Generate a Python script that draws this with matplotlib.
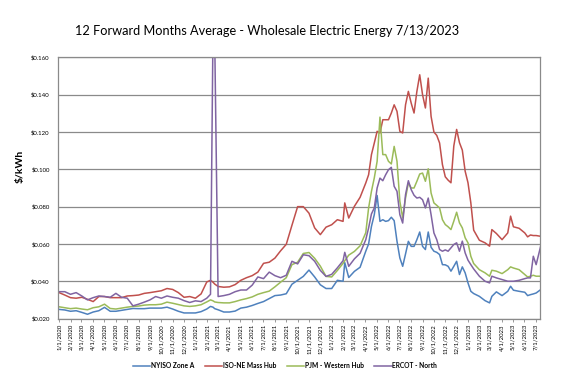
import numpy as np
import pandas as pd
import matplotlib
matplotlib.use("Agg")
import matplotlib.pyplot as plt
import matplotlib.dates as mdates
from matplotlib.ticker import FuncFormatter, MultipleLocator

# month offsets from 1/1/2020 where values were read
months = [0, 0.5, 1, 1.5, 2, 2.5, 3, 3.5, 4, 4.5, 5, 5.5, 6, 6.5, 7, 7.5, 8, 8.5, 9, 9.5,
          10, 10.5, 11, 11.5, 12, 12.5, 13,
          13.33, 13.55, 13.7,
          14, 14.5, 15, 15.5, 16, 16.5, 17, 17.5, 18, 18.5, 19, 19.5, 20, 20.5, 21, 21.5,
          22, 22.5, 23, 23.5, 24, 24.5, 25,
          25.15,
          25.5, 26, 26.5,
          27, 27.25, 27.5, 27.75, 28, 28.25, 28.5, 28.75, 29, 29.25, 29.5, 29.75,
          30, 30.25, 30.5, 30.75, 31, 31.25, 31.5, 31.75, 32, 32.25, 32.5, 32.75,
          33, 33.25, 33.5, 33.75, 34, 34.25, 34.5, 34.75, 35, 35.25, 35.5, 35.75,
          36, 36.25, 36.5,
          37, 37.5, 37.9, 38.1, 38.5, 39, 39.5, 39.75, 40, 40.5, 41, 41.25, 41.5, 41.75, 42, 42.4]

nyiso = [.0249, .0246, .0239, .0242, .0233, .0223, .0235, .0242, .0260, .0239, .0239, .0244, .0249,
         .0254, .0253, .0253, .0256, .0256, .0256, .0261, .0251, .0239, .0230, .0230, .0230, .0237, .0251,
         .0265, .0261, .0253,
         .0247, .0235, .0235, .0240, .0256, .0261, .0270, .0281, .0291, .0307, .0323, .0326, .0333,
         .0384, .0405, .0426, .0460, .0423, .0381, .0361, .0361, .0405, .0400,
         .0500,
         .0420, .0453, .0475,
         .0561, .0600, .0694, .0757, .0860, .0721, .0730, .0721, .0725, .0743, .0725, .0614,
         .0525, .0480, .0546, .0614, .0587, .0587, .0623, .0664, .0587, .0570, .0664, .0582,
         .0561, .0555, .0543, .0489, .0488, .0480, .0454, .0480, .0507, .0436, .0477, .0445,
         .0391, .0346, .0334,
         .0319, .0296, .0284, .0319, .0343, .0323, .0346, .0373, .0352, .0346, .0341, .0323, .0328,
         .0332, .0337, .0355]

isone = [.0339, .0326, .0312, .0309, .0314, .0303, .0291, .0318, .0318, .0312, .0312, .0312, .0321,
         .0323, .0326, .0335, .0339, .0344, .0349, .0361, .0356, .0339, .0314, .0318, .0309, .0332, .0396,
         .0405, .0395, .0385,
         .0372, .0368, .0370, .0382, .0405, .0419, .0430, .0449, .0496, .0502, .0524, .0563, .0598,
         .0700, .0800, .0800, .0765, .0686, .0650, .0690, .0703, .0730, .0721,
         .0820,
         .0739, .0802, .0850,
         .0927, .0971, .1079, .1141, .1204, .1195, .1266, .1266, .1266, .1302, .1346, .1311,
         .1204, .1195, .1346, .1418, .1355, .1302, .1418, .1507, .1400, .1329, .1489, .1284,
         .1200, .1182, .1141, .1025, .0960, .0942, .0928, .1125, .1214, .1143, .1103, .0990,
         .0928, .0820, .0674,
         .0620, .0606, .0588, .0677, .0656, .0623, .0659, .0749, .0692, .0684, .0659, .0638, .0648,
         .0645, .0645, .0641]

pjm = [.0263, .0258, .0253, .0256, .0251, .0247, .0258, .0263, .0277, .0254, .0251, .0256, .0261,
       .0265, .0267, .0272, .0274, .0274, .0277, .0288, .0282, .0275, .0268, .0265, .0268, .0274, .0289,
       .0300, .0295, .0289,
       .0286, .0284, .0284, .0291, .0300, .0307, .0316, .0330, .0339, .0347, .0370, .0395, .0419,
       .0489, .0502, .0549, .0554, .0523, .0481, .0426, .0423, .0458, .0496,
       .0510,
       .0540, .0560, .0590,
       .0660, .0793, .0882, .0954, .1043, .1280, .1079, .1079, .1043, .1029, .1123, .1043,
       .0829, .0739, .0846, .0927, .0900, .0900, .0936, .0975, .0980, .0936, .1003, .0873,
       .0820, .0807, .0793, .0730, .0704, .0692, .0677, .0722, .0770, .0713, .0686, .0633,
       .0606, .0534, .0495,
       .0462, .0445, .0427, .0459, .0454, .0441, .0462, .0477, .0471, .0462, .0436, .0423, .0427,
       .0432, .0427, .0427]

ercot = [.0344, .0344, .0330, .0339, .0321, .0300, .0312, .0321, .0318, .0314, .0335, .0314, .0309,
         .0268, .0277, .0288, .0300, .0318, .0309, .0321, .0314, .0309, .0296, .0286, .0295, .0291, .0309,
         .0330, .1750, .1700,
         .0318, .0323, .0330, .0344, .0353, .0353, .0379, .0423, .0414, .0449, .0430, .0419, .0432,
         .0507, .0493, .0542, .0537, .0507, .0458, .0426, .0437, .0472, .0510,
         .0555,
         .0480, .0520, .0550,
         .0623, .0686, .0761, .0793, .0900, .0953, .0939, .0971, .0998, .1011, .0909, .0882,
         .0757, .0712, .0864, .0939, .0891, .0861, .0846, .0850, .0837, .0793, .0846, .0757,
         .0659, .0623, .0570, .0561, .0568, .0561, .0579, .0597, .0606, .0561, .0615, .0552,
         .0513, .0489, .0466,
         .0427, .0400, .0391, .0427, .0418, .0409, .0400, .0400, .0400, .0405, .0414, .0418, .0418,
         .0534, .0489, .0588]

names = ["NYISO Zone A", "ISO-NE Mass Hub", "PJM - Western Hub", "ERCOT - North"]
colors = ["#4F81BD", "#C0504D", "#9BBB59", "#8064A2"]

dates = pd.Timestamp("2020-01-01") + pd.to_timedelta(np.array(months) * 30.4375, unit="D")

fig = plt.figure(figsize=(5.64, 3.73), dpi=100)
ax = fig.add_axes([0.1028, 0.146, 0.8555, 0.700])

for vals, name, c in zip([nyiso, isone, pjm, ercot], names, colors):
    ax.plot(dates, vals, color=c, lw=1.1, label=name)

ax.set_ylim(0.020, 0.160)
ax.set_xlim(pd.Timestamp("2019-12-29"), pd.Timestamp("2023-07-14"))
ax.yaxis.set_major_locator(MultipleLocator(0.020))
ax.yaxis.set_major_formatter(FuncFormatter(lambda v, p: f"${v:.3f}"))
ax.xaxis.set_major_locator(mdates.MonthLocator())
ax.xaxis.set_major_formatter(FuncFormatter(
    lambda v, p: "{d.month}/{d.day}/{d.year}".format(d=mdates.num2date(v))))

ax.grid(axis="y", color="#8a8a8a", lw=0.9)
ax.set_axisbelow(True)
for s in ax.spines.values():
    s.set_color("#8a8a8a")
    s.set_linewidth(0.9)
ax.tick_params(axis="x", labelsize=4.3, rotation=90, length=2.5, width=0.6, color="#8a8a8a", pad=1.5)
ax.tick_params(axis="y", labelsize=4.3, length=0, pad=6)
for lab in ax.get_xticklabels() + ax.get_yticklabels():
    lab.set_fontfamily("Lato")

fig.text(0.035, 0.555, "$/kWh", rotation=90, ha="center", va="center",
         fontsize=7.5, fontweight="bold", family="Lato")
fig.text(0.473, 0.918, "12 Forward Months Average - Wholesale Electric Energy 7/13/2023",
         ha="center", va="center", fontsize=9.2, family="Lato")

fig.legend(loc="lower center", bbox_to_anchor=(0.505, -0.005), ncol=4, frameon=False,
           prop={"family": "Lato", "size": 4.8, "weight": "bold"},
           handlelength=2.6, columnspacing=1.6, handletextpad=0.1)

fig.savefig("out.png", dpi=100)
